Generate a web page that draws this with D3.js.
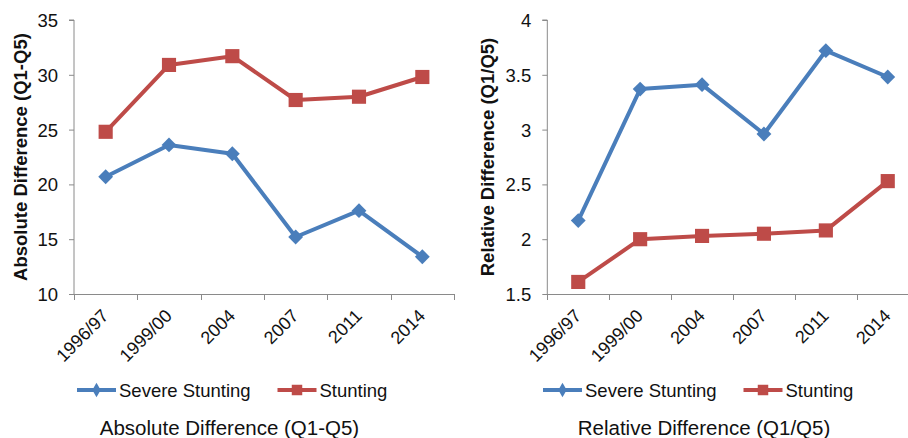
<!DOCTYPE html>
<html>
<head>
<meta charset="utf-8">
<script src="https://cdn.jsdelivr.net/npm/d3@7"></script>
<style>
  html, body { margin: 0; padding: 0; background: #fff; }
  svg { display: block; font-family: "Liberation Sans", Arial, Helvetica, sans-serif; }
</style>
</head>
<body>
<svg id="chart" width="908" height="438"></svg>
<script>
// ---- Data ----
const categories = ["1996/97", "1999/00", "2004", "2007", "2011", "2014"];
const seriesNames = ["Severe Stunting", "Stunting"];
const absSevere = [20.7, 23.6, 22.8, 15.2, 17.6, 13.4];
const absStunting = [24.8, 30.9, 31.7, 27.7, 28.0, 29.8];
const relSevere = [2.17, 3.37, 3.41, 2.96, 3.72, 3.48];
const relStunting = [1.61, 2.00, 2.03, 2.05, 2.08, 2.53];
const absTicks = [10, 15, 20, 25, 30, 35];
const relTicks = [1.5, 2, 2.5, 3, 3.5, 4];
const absYTitle = "Absolute Difference (Q1-Q5)";
const relYTitle = "Relative Difference (Q1/Q5)";
const absTitle = "Absolute Difference (Q1-Q5)";
const relTitle = "Relative Difference (Q1/Q5)";

// ---- Styles ----
const BLUE = "#4A7EBB";
const RED = "#BE4B48";
const AXIS = "#8a8a8a";
const TXT = "#111";

const svg = d3.select("#chart");

function drawPanel(cfg) {
  const g = svg.append("g");
  const x = d3.scaleBand().domain(categories).range([cfg.x0, cfg.x1]).padding(0);
  const y = d3.scaleLinear().domain([cfg.ticks[0], cfg.ticks[cfg.ticks.length - 1]]).range([294, 20]);

  // Y axis
  const yAxis = d3.axisLeft(y).tickValues(cfg.ticks).tickSize(5).tickPadding(11)
    .tickFormat(d3.format(""));
  const ya = g.append("g").attr("transform", `translate(${cfg.x0},0)`).call(yAxis);
  ya.select(".domain").attr("stroke", AXIS).attr("d", `M-5,${y.range()[1]}H0V${y.range()[0]}`);
  ya.selectAll(".tick line").attr("stroke", AXIS);
  ya.selectAll(".tick text").attr("fill", TXT).style("font-size", "18.5px")
    .attr("dy", "0.35em");

  // X axis (ticks at category boundaries)
  const xa = g.append("g");
  xa.append("line").attr("x1", cfg.x0).attr("x2", cfg.x1).attr("y1", 294.5).attr("y2", 294.5)
    .attr("stroke", AXIS);
  const bounds = categories.map(c => x(c)).concat([x(categories[categories.length - 1]) + x.bandwidth()]);
  xa.selectAll("line.tk").data(bounds).enter().append("line").attr("class", "tk")
    .attr("x1", d => Math.round(d) + 0.5).attr("x2", d => Math.round(d) + 0.5)
    .attr("y1", 294).attr("y2", 300).attr("stroke", AXIS);
  xa.selectAll("text").data(categories).enter().append("text")
    .attr("transform", d => `translate(${x(d) + x.bandwidth() / 2 + 4},317) rotate(-45)`)
    .attr("text-anchor", "end").attr("fill", TXT).style("font-size", "18px")
    .text(d => d);

  // Y title
  g.append("text")
    .attr("transform", `translate(${cfg.yTitleX},157) rotate(-90)`)
    .attr("text-anchor", "middle").attr("fill", TXT)
    .style("font-size", "18.5px").style("font-weight", "bold")
    .text(cfg.yTitle);

  // Lines
  const cx = d => x(d) + x.bandwidth() / 2;
  const line = d3.line().x((d, i) => cx(categories[i])).y(d => y(d));
  const series = [
    { values: cfg.severe, color: BLUE, shape: d3.symbolSquare, size: 110, rot: 45 },
    { values: cfg.stunting, color: RED, shape: d3.symbolSquare, size: 200, rot: 0 }
  ];
  series.forEach(s => {
    g.append("path").datum(s.values).attr("d", line).attr("fill", "none")
      .attr("stroke", s.color).attr("stroke-width", 4).attr("stroke-linejoin", "round");
  });
  series.forEach(s => {
    g.selectAll(null).data(s.values).enter().append("path")
      .attr("d", d3.symbol().type(s.shape).size(s.size))
      .attr("transform", (d, i) => `translate(${cx(categories[i])},${y(d)}) rotate(${s.rot})`)
      .attr("fill", s.color);
  });

  // Legend
  const lg = g.append("g");
  const legendItems = [
    { name: seriesNames[0], color: BLUE, shape: d3.symbolDiamond, size: 60, x: cfg.legX[0] },
    { name: seriesNames[1], color: RED, shape: d3.symbolSquare, size: 110, x: cfg.legX[1] }
  ];
  legendItems.forEach(it => {
    lg.append("line").attr("x1", it.x).attr("x2", it.x + 39).attr("y1", 390).attr("y2", 390)
      .attr("stroke", it.color).attr("stroke-width", 4);
    lg.append("path").attr("d", d3.symbol().type(it.shape).size(it.size)())
      .attr("transform", `translate(${it.x + 19.5},390)`).attr("fill", it.color);
    lg.append("text").attr("x", it.x + 42).attr("y", 396.5).attr("fill", TXT)
      .style("font-size", "18.5px").text(it.name);
  });

  // Bottom title
  g.append("text").attr("x", cfg.titleX).attr("y", 435).attr("text-anchor", "middle")
    .attr("fill", TXT).style("font-size", "20.5px").text(cfg.title);
}

drawPanel({
  x0: 74, x1: 454, ticks: absTicks, severe: absSevere, stunting: absStunting,
  yTitle: absYTitle, yTitleX: 26.5, legX: [77, 277.5], title: absTitle, titleX: 229.5
});
drawPanel({
  x0: 547.3, x1: 918.7, ticks: relTicks, severe: relSevere, stunting: relStunting,
  yTitle: relYTitle, yTitleX: 494, legX: [543, 743.5], title: relTitle, titleX: 704
});
</script>
</body>
</html>
